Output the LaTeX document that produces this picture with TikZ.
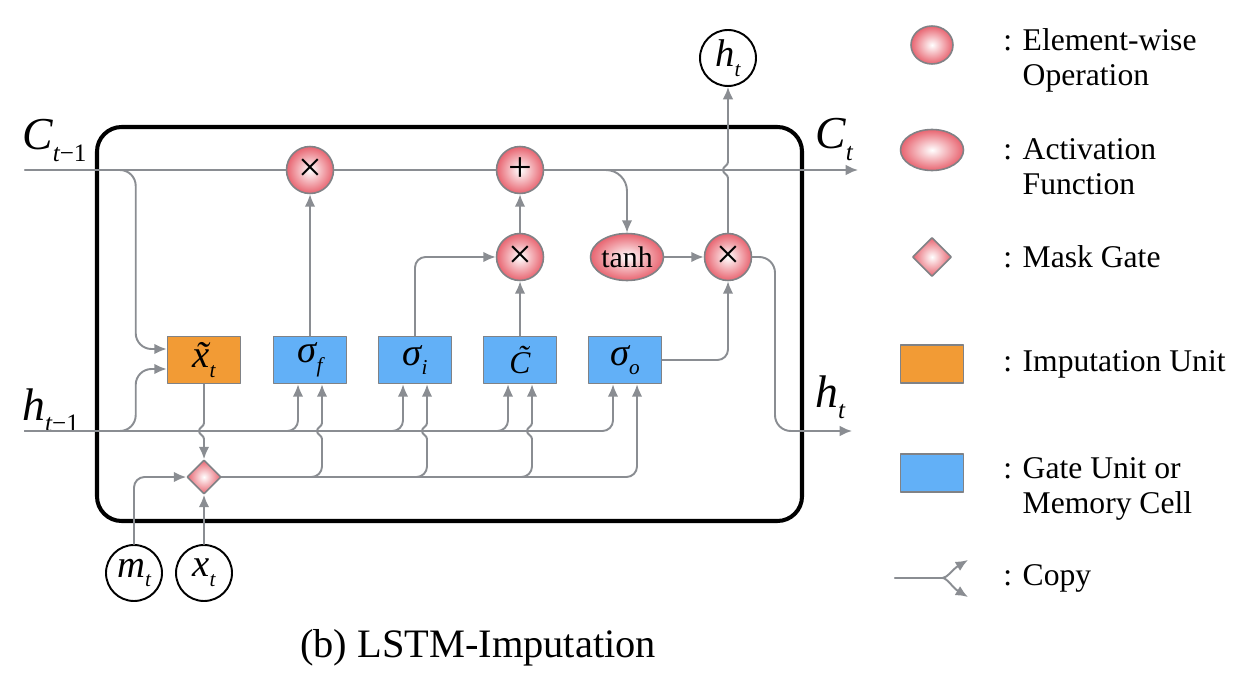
\documentclass[tikz,border=0pt]{standalone}
\usepackage{fontspec}
\setmainfont{Liberation Serif}
\usepackage{graphicx}
\usetikzlibrary{arrows.meta,calc,positioning,shapes.geometric}

\definecolor{wiregray}{RGB}{138,141,146}
\definecolor{edgegray}{RGB}{128,130,134}
\definecolor{gateblue}{RGB}{98,176,247}
\definecolor{imputorange}{RGB}{242,155,53}
\definecolor{oppink}{RGB}{232,100,112}

% italic symbol with a lowered small index
\newcommand{\sublbl}[2]{{\itshape #1}\raisebox{-0.25em}{\scalebox{0.55}{\itshape #2}}}
% small brace-like jump where a vertical wire crosses a horizontal one
\newcommand{\jumpup}[2]{-- (#1,#2+8) .. controls (#1,#2+4) and (#1-5,#2+4) .. (#1-5,#2) .. controls (#1-5,#2-4) and (#1,#2-4) .. (#1,#2-8)}
\newcommand{\jumpdown}[2]{-- (#1,#2-8) .. controls (#1,#2-4) and (#1-5,#2-4) .. (#1-5,#2) .. controls (#1-5,#2+4) and (#1,#2+4) .. (#1,#2+8)}

\tikzset{
  wire/.style={draw=wiregray, line width=1.1pt, rounded corners=6pt},
  arr/.style={wire, -{Latex[length=7pt,width=6pt]}},
  op/.style={circle, draw=edgegray, line width=0.9pt, inner color=white, outer color=oppink,
    minimum size=0.94cm, inner sep=0pt, font=\fontsize{24}{24}\selectfont},
  act/.style={ellipse, draw=edgegray, line width=0.9pt, inner color=white, outer color=oppink,
    minimum width=1.46cm, minimum height=0.94cm, inner sep=0pt, font=\fontsize{17}{17}\selectfont},
  maskgate/.style={diamond, aspect=1, draw=edgegray, line width=0.9pt, inner color=white,
    outer color=oppink, minimum size=0.68cm, inner sep=0pt},
  gate/.style={rectangle, draw=edgegray, line width=0.9pt, fill=gateblue, minimum width=1.46cm,
    minimum height=0.94cm, inner sep=0pt, font=\fontsize{22}{22}\selectfont},
  imput/.style={gate, fill=imputorange},
  ioc/.style={circle, draw=black, line width=1.1pt, minimum size=1.12cm, inner sep=0pt,
    font=\fontsize{22}{22}\selectfont},
  big/.style={inner sep=0pt, anchor=base west, font=\fontsize{26}{26}\selectfont},
  legtext/.style={anchor=west, align=left, inner sep=0pt, font=\fontsize{18}{20}\selectfont}
}

\begin{document}
\begin{tikzpicture}[x=0.02cm, y=-0.02cm, line cap=round, line join=round]
  \useasboundingbox (0,0) rectangle (1241,689);

  % --- cell frame ---
  \draw[line width=2.3pt, rounded corners=14pt] (97,127) rectangle (802,521);

  % --- element-wise operations and activation ---
  \node[op] (f1) at (310,170) {×};
  \node[op] (add) at (520,170) {+};
  \node[op] (m2) at (520,257) {×};
  \node[act] (tanh) at (627,257) {tanh};
  \node[op] (m3) at (728,257) {×};

  % --- units ---
  \node[imput] (xt) at (204,360) {\sublbl{\~{x}}{t}};
  \node[gate] (sf) at (310,360) {\sublbl{σ}{f}};
  \node[gate] (si) at (415,360) {\sublbl{σ}{i}};
  \node[gate, font=\fontsize{18}{18}\selectfont] (cc) at (520,360) {\itshape\~{C}};
  \node[gate] (so) at (625,360) {\sublbl{σ}{o}};
  \node[maskgate] (mg) at (204,477) {};

  % --- inputs and outputs ---
  \node[ioc] (htop) at (728,58) {\sublbl{h}{t}};
  \node[ioc] (mt) at (134,573) {\sublbl{m}{t}};
  \node[ioc] (xin) at (204,573) {\sublbl{x}{t}};
  \coordinate (cin) at (25,170);
  \coordinate (cout) at (858,170);
  \coordinate (hin) at (25,431);
  \coordinate (hout) at (852,431);
  \coordinate (hbend) at (775,431);

  \node[big] (lcin) at (22,150) {\sublbl{C}{t\upshape −1}};
  \node[big] (lhin) at (22,420) {\sublbl{h}{t\upshape −1}};
  \node[big] (lcout) at (815,149) {\sublbl{C}{t}};
  \node[big] (lhout) at (815,407) {\sublbl{h}{t}};

  % input points of the units
  \coordinate (xt-a) at ($(xt.west)+(0,-11)$);
  \coordinate (xt-b) at ($(xt.west)+(0,9)$);
  \coordinate (sf-l) at ($(sf.south)+(-12,0)$);
  \coordinate (sf-r) at ($(sf.south)+(12,0)$);
  \coordinate (si-l) at ($(si.south)+(-12,0)$);
  \coordinate (si-r) at ($(si.south)+(12,0)$);
  \coordinate (cc-l) at ($(cc.south)+(-12,0)$);
  \coordinate (cc-r) at ($(cc.south)+(12,0)$);
  \coordinate (so-l) at ($(so.south)+(-12,0)$);
  \coordinate (so-r) at ($(so.south)+(12,0)$);

  % --- cell state line ---
  \draw[wire] (cin) -- (f1);
  \draw[wire] (f1) -- (add);
  \draw[arr] (add) -- (cout);
  \draw[arr, rounded corners=12pt] (add.east) -| (tanh.north);
  \draw[arr, rounded corners=9pt] (cin) -| ($(xt-a)+(-31,0)$) -- (xt-a);

  % --- hidden state line ---
  \draw[arr, rounded corners=9pt] (hin) -| ($(xt-b)+(-31,0)$) -- (xt-b);
  \draw[arr] (hin) -| (sf-l);
  \draw[arr] (hin) -| (si-l);
  \draw[arr] (hin) -| (cc-l);
  \draw[arr] (hin) -| (so-l);

  % --- masked input ---
  \draw[arr, sharp corners] (xt.south) \jumpdown{204}{431} -- (mg.north);
  \draw[arr] (mt.north) |- (mg.west);
  \draw[arr] (xin) -- (mg);
  \draw[wire] (mg.east) -| (322,439);
  \draw[arr, sharp corners] (322,439) \jumpup{322}{431} -- (sf-r);
  \draw[wire] (mg.east) -| (427,439);
  \draw[arr, sharp corners] (427,439) \jumpup{427}{431} -- (si-r);
  \draw[wire] (mg.east) -| (532,439);
  \draw[arr, sharp corners] (532,439) \jumpup{532}{431} -- (cc-r);
  \draw[arr] (mg.east) -| (so-r);

  % --- gates to operations ---
  \draw[arr] (sf) -- (f1);
  \draw[arr] (si.north) |- (m2.west);
  \draw[arr] (cc) -- (m2);
  \draw[arr] (m2) -- (add);
  \draw[arr] (tanh) -- (m3);
  \draw[arr] (so.east) -| (m3.south);
  \draw[arr, sharp corners] (m3.north) \jumpup{728}{170} -- (htop.south);
  \draw[arr, rounded corners=9pt] (m3.east) -| (hbend) -- (hout);

  % --- legend ---
  \node[op, ellipse, minimum width=0.84cm, minimum height=0.76cm] (lg1) at (932,45) {};
  \node[act, minimum width=1.26cm, minimum height=0.82cm] (lg2) at (932,150) {};
  \node[maskgate, minimum size=0.78cm] (lg3) at (932,257) {};
  \node[imput, minimum width=1.26cm, minimum height=0.76cm] (lg4) at (932,364) {};
  \node[gate, minimum width=1.26cm, minimum height=0.76cm] (lg5) at (932,473) {};
  \coordinate (cp) at (895,578);
  \coordinate (cpm) at (932,578);
  \coordinate (cpa) at (968,560);
  \coordinate (cpb) at (968,597);
  \draw[arr] (cp) -- (cpm) .. controls (947,578) and (953,569) .. (cpa);
  \draw[arr] (cp) -- (cpm) .. controls (947,578) and (953,588) .. (cpb);

  \node[legtext] (lt1) at (1003,60) {: Element-wise\\\hphantom{: }Operation};
  \node[legtext] (lt2) at (1003,167) {: Activation\\\hphantom{: }Function};
  \node[legtext] (lt3) at (1003,257) {: Mask Gate};
  \node[legtext] (lt4) at (1003,364) {: Imputation Unit};
  \node[legtext] (lt5) at (1003,489) {: Gate Unit or\\\hphantom{: }Memory Cell};
  \node[legtext] (lt6) at (1003,578) {: Copy};

  % --- caption ---
  \node[font=\fontsize{23}{23}\selectfont] (cap) at (478,648) {(b) LSTM-Imputation};
\end{tikzpicture}
\end{document}
